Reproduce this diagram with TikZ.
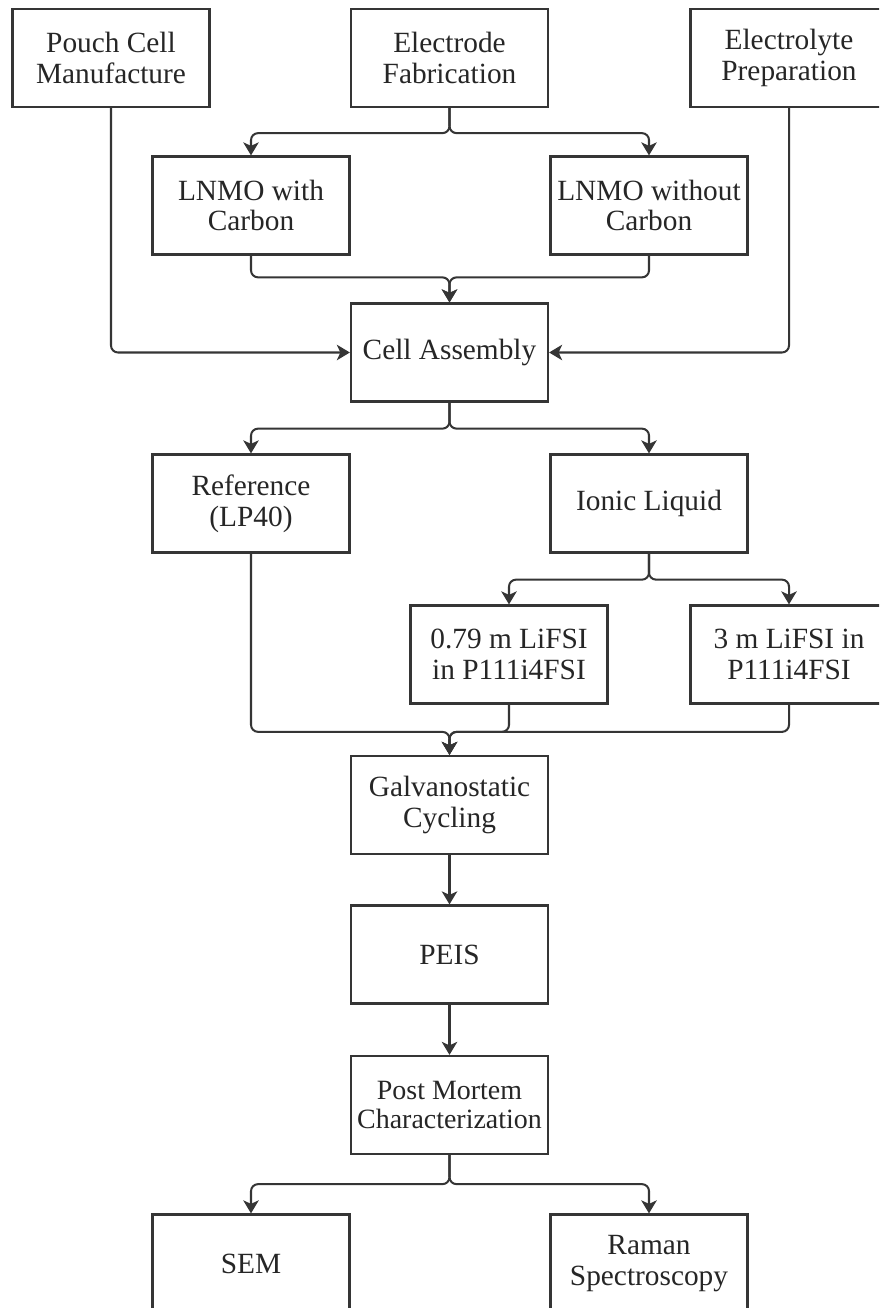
\documentclass[tikz,border=0pt]{standalone}
\usepackage{fontspec}
\setmainfont{Liberation Serif}
\usepackage{tikz}
\definecolor{flowLine}{HTML}{353535}
\definecolor{flowText}{HTML}{262626}
\usetikzlibrary{arrows.meta,calc}

\begin{document}
\begin{tikzpicture}[x=0.02cm,y=-0.02cm,
  every node/.style={font=\fontsize{16.7}{17.6}\selectfont, text=flowText},
  stepbox/.style={draw=flowLine, line width=1.3pt, minimum width=3.94cm, minimum height=1.96cm, inner sep=1pt, align=center},
  flow/.style={draw=flowLine, line width=1.15pt, rounded corners=4pt, -{Stealth[length=0.26cm,width=0.31cm,inset=0.07cm]}}]
  \useasboundingbox (0,0) rectangle (879,1308);
  \fill[white] (0,0) rectangle (879,1308);
  \clip (0,0) rectangle (879,1308);
  % boxes
  \foreach \name/\x/\y/\txt in {pouch/111/58/{Pouch Cell\\Manufacture}, elec/449.5/58/{Electrode\\Fabrication},
    elyte/789/58/{Electrolyte\\Preparation}, lnmoA/251/205.5/{LNMO with\\Carbon}, lnmoB/649/205.5/{LNMO without\\Carbon},
    cell/449.5/352.5/{Cell Assembly}, ref/251/503.5/{Reference\\(LP40)}, ionic/649/503.5/{Ionic Liquid},
    lifA/509/654.5/{0.79 m LiFSI\\in P111i4FSI}, lifB/789/654.5/{3 m LiFSI in\\P111i4FSI},
    galv/449.5/805/{Galvanostatic\\Cycling}, peis/449.5/954.5/{PEIS},
    sem/251/1263.5/{SEM}, raman/649/1263.5/{Raman\\Spectroscopy}} {
    \node[stepbox] (\name) at (\x,\y) {\txt};
  }
  \node[stepbox, font=\fontsize{15.9}{16.8}\selectfont] (pm) at (449.5,1105) {Post Mortem\\Characterization};
  % splits
  \foreach \a/\b/\d in {elec/lnmoA/25, elec/lnmoB/25, cell/ref/26, cell/ionic/26,
    ionic/lifA/26, ionic/lifB/26, pm/sem/29, pm/raman/29} {
    \draw[flow] (\a.south) -- ++(0,\d) -| (\b.north);
  }
  % merges
  \coordinate (jcell) at ($(cell.north)+(0,-25)$);
  \coordinate (jgalv) at ($(galv.north)+(0,-23)$);
  \foreach \a in {lnmoA,lnmoB} \draw[flow] (\a.south) |- (jcell) -- (cell.north);
  \foreach \a in {ref,lifA,lifB} \draw[flow] (\a.south) |- (jgalv) -- (galv.north);
  \draw[flow] (pouch.south) |- (cell.west);
  \draw[flow] (elyte.south) |- (cell.east);
  \draw[flow] (galv) -- (peis);
  \draw[flow] (peis) -- (pm);
\end{tikzpicture}
\end{document}
